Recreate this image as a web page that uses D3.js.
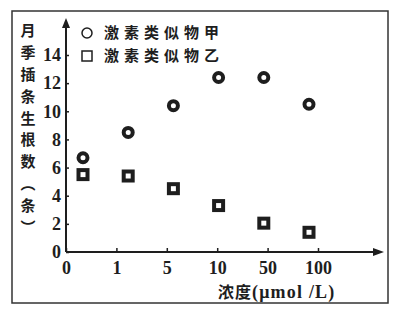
<!DOCTYPE html>
<html>
<head>
<meta charset="utf-8">
<title>激素类似物浓度与月季插条生根数</title>
<script src="https://d3js.org/d3.v7.min.js"></script>
<style>
  body { margin: 0; background: #fff; }
  svg { display: block; }
</style>
</head>
<body>
<div id="chart"></div>
<script>
// data
var concentrations = ["0", "1", "5", "10", "50", "100"];
var seriesJia = [6.7, 8.5, 10.4, 12.4, 12.4, 10.5];   // 激素类似物甲
var seriesYi  = [5.5, 5.4, 4.5, 3.3, 2.05, 1.4];      // 激素类似物乙
var yTicks = [0, 2, 4, 6, 8, 10, 12, 14];
var seriesNames = ["激素类似物甲", "激素类似物乙"];
var yTitle = ["月", "季", "插", "条", "生", "根", "数", "︵", "条", "︶"];
var xTitle = "浓度";
var xUnit = "(μmol /L)";

var W = 400, H = 311;
var ink = "#1e1e1e";
var serif = "'Liberation Serif', 'DejaVu Serif', serif";
var cjk = "'Noto Sans CJK SC', sans-serif";

var svg = d3.select("#chart").append("svg")
    .attr("width", W)
    .attr("height", H);

svg.append("rect").attr("width", W).attr("height", H).attr("fill", "#fff");

// outer frame
svg.append("rect")
    .attr("x", 12).attr("y", 11)
    .attr("width", 376).attr("height", 292)
    .attr("fill", "none")
    .attr("stroke", "#333")
    .attr("stroke-width", 1.5);

// scales
var x = d3.scalePoint().domain(concentrations).range([66, 318]);
var xMark = d3.scalePoint().domain(concentrations).range([83, 309]);
var y = d3.scaleLinear().domain([0, 14]).range([252, 55]);

// y axis
var yAxis = svg.append("g")
    .attr("transform", "translate(66,0)")
    .call(d3.axisLeft(y).tickValues(yTicks).tickSizeInner(-3).tickSizeOuter(0).tickPadding(5));
yAxis.select(".domain").remove();
yAxis.selectAll("line").attr("stroke", ink).attr("stroke-width", 1.5);
yAxis.selectAll("text")
    .attr("fill", ink)
    .style("font-family", serif)
    .style("font-size", "18px")
    .style("font-weight", "bold");

// x axis
var xAxis = svg.append("g")
    .attr("transform", "translate(0,252)")
    .call(d3.axisBottom(x).tickSizeInner(-4).tickSizeOuter(0).tickPadding(9));
xAxis.select(".domain").remove();
xAxis.selectAll("line").attr("stroke", ink).attr("stroke-width", 1.5);
xAxis.selectAll("text")
    .attr("fill", ink)
    .style("font-family", serif)
    .style("font-size", "18px")
    .style("font-weight", "bold");

// axis lines with arrows
svg.append("line")
    .attr("x1", 66).attr("y1", 252).attr("x2", 66).attr("y2", 26)
    .attr("stroke", ink).attr("stroke-width", 2);
svg.append("path")
    .attr("d", "M66,18 L62,28 L70,28 Z")
    .attr("fill", ink);
svg.append("line")
    .attr("x1", 66).attr("y1", 252).attr("x2", 376).attr("y2", 252)
    .attr("stroke", ink).attr("stroke-width", 2);
svg.append("path")
    .attr("d", "M384,252 L373,248 L373,256 Z")
    .attr("fill", ink);

// y title, one character per line
svg.append("g").selectAll("text")
    .data(yTitle)
    .enter().append("text")
    .attr("x", 28)
    .attr("y", function(d, i) { return 31 + i * 21.8; })
    .attr("dy", "0.36em")
    .attr("text-anchor", "middle")
    .attr("fill", ink)
    .style("font-family", cjk)
    .style("font-size", "15px")
    .style("font-weight", "bold")
    .text(function(d) { return d; });

// x title
var xt = svg.append("text")
    .attr("x", 218).attr("y", 298)
    .attr("fill", ink)
    .style("font-weight", "bold");
xt.append("tspan").style("font-family", cjk).style("font-size", "16px").style("letter-spacing", "1px").text(xTitle);
xt.append("tspan").style("font-family", serif).style("font-size", "18px").style("letter-spacing", "1.2px").text(xUnit);

// points: 甲 circles
svg.append("g").selectAll("circle")
    .data(seriesJia)
    .enter().append("circle")
    .attr("cx", function(d, i) { return xMark(concentrations[i]); })
    .attr("cy", function(d) { return y(d); })
    .attr("r", 4.5)
    .attr("fill", "none")
    .attr("stroke", ink)
    .attr("stroke-width", 4);

// points: 乙 squares
svg.append("g").selectAll("rect")
    .data(seriesYi)
    .enter().append("rect")
    .attr("x", function(d, i) { return xMark(concentrations[i]) - 4.5; })
    .attr("y", function(d) { return y(d) - 4.5; })
    .attr("width", 9).attr("height", 9)
    .attr("fill", "none")
    .attr("stroke", ink)
    .attr("stroke-width", 4);

// legend
var legend = svg.append("g");
legend.append("circle")
    .attr("cx", 87).attr("cy", 33).attr("r", 5)
    .attr("fill", "none").attr("stroke", ink).attr("stroke-width", 1.5);
legend.append("rect")
    .attr("x", 82).attr("y", 51).attr("width", 10).attr("height", 10)
    .attr("fill", "none").attr("stroke", ink).attr("stroke-width", 1.5);
legend.selectAll("text")
    .data(seriesNames)
    .enter().append("text")
    .attr("x", 104)
    .attr("y", function(d, i) { return 33 + i * 23; })
    .attr("dy", "0.36em")
    .attr("fill", ink)
    .style("font-family", cjk)
    .style("font-size", "15px")
    .style("font-weight", "bold")
    .style("letter-spacing", "5px")
    .text(function(d) { return d; });
</script>
</body>
</html>
